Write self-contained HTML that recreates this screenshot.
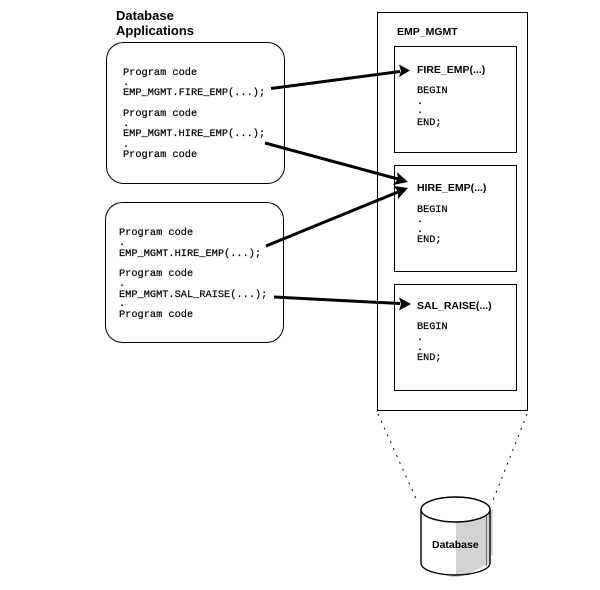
<!DOCTYPE html>
<html>
<head>
<meta charset="utf-8">
<style>
html,body{margin:0;padding:0;background:#fff;width:600px;height:590px;overflow:hidden}
svg{display:block}
.h{font-family:"Liberation Sans",sans-serif;font-weight:bold;font-size:13px;fill:#000}
.t{font-family:"Liberation Sans",sans-serif;font-size:10.5px;font-weight:bold;fill:#000}
.m{font-family:"Liberation Mono",monospace;font-size:10.3px;fill:#000;stroke:#000;stroke-width:.2}
.s{font-family:"Liberation Mono",monospace;font-size:10.2px;fill:#000;stroke:#000;stroke-width:.2}
.b{fill:none;stroke:#000;stroke-width:1}
</style>
</head>
<body>
<svg width="600" height="590" viewBox="0 0 600 590" xmlns="http://www.w3.org/2000/svg">
<rect width="600" height="590" fill="#fff"/>

<text class="h" x="116" y="20">Database</text>
<text class="h" x="116" y="35">Applications</text>

<rect class="b" x="106.5" y="42.5" width="178" height="141" rx="17" ry="17"/>
<rect class="b" x="105.5" y="202.5" width="178" height="140" rx="17" ry="17"/>

<text class="m" x="123" y="75">Program code</text>
<text class="m" x="123" y="85">.</text>
<text class="m" x="123" y="95">EMP_MGMT.FIRE_EMP(...);</text>
<text class="m" x="123" y="116">Program code</text>
<text class="m" x="123" y="126">.</text>
<text class="m" x="123" y="136">EMP_MGMT.HIRE_EMP(...);</text>
<text class="m" x="123" y="147">.</text>
<text class="m" x="123" y="157">Program code</text>

<text class="m" x="119" y="235">Program code</text>
<text class="m" x="119" y="245">.</text>
<text class="m" x="119" y="256">EMP_MGMT.HIRE_EMP(...);</text>
<text class="m" x="119" y="276">Program code</text>
<text class="m" x="119" y="286">.</text>
<text class="m" x="119" y="297">EMP_MGMT.SAL_RAISE(...);</text>
<text class="m" x="119" y="306">.</text>
<text class="m" x="119" y="317">Program code</text>

<rect class="b" x="377.5" y="12.5" width="150" height="398"/>
<text class="t" x="397" y="35">EMP_MGMT</text>

<rect class="b" x="394.5" y="46.5" width="122" height="106"/>
<text class="t" x="417" y="73">FIRE_EMP(...)</text>
<text class="s" x="417" y="93">BEGIN</text>
<text class="s" x="417" y="104">.</text>
<text class="s" x="417" y="113">.</text>
<text class="s" x="417" y="125">END;</text>

<rect class="b" x="394.5" y="165.5" width="122" height="106"/>
<text class="t" x="417" y="191">HIRE_EMP(...)</text>
<text class="s" x="417" y="212">BEGIN</text>
<text class="s" x="417" y="222">.</text>
<text class="s" x="417" y="232">.</text>
<text class="s" x="417" y="242">END;</text>

<rect class="b" x="394.5" y="284.5" width="122" height="106"/>
<text class="t" x="417" y="309">SAL_RAISE(...)</text>
<text class="s" x="417" y="329">BEGIN</text>
<text class="s" x="417" y="340">.</text>
<text class="s" x="417" y="350">.</text>
<text class="s" x="417" y="360">END;</text>

<g stroke="#000" stroke-width="3" fill="none">
<line x1="271" y1="88.5" x2="400" y2="71.5"/>
<line x1="265" y1="143" x2="398" y2="179"/>
<line x1="266" y1="246" x2="398" y2="192"/>
<line x1="274" y1="297" x2="400" y2="303.5"/>
</g>
<g fill="#000">
<polygon points="410,70.5 399,64.5 401,71 399,77"/>
<polygon points="408,182 397,172 398,179 393,185"/>
<polygon points="408,188 394,186 398,192 398,199"/>
<polygon points="411,304 399,297.5 401,304 399,310.5"/>
</g>

<g stroke="#000" stroke-width="1" stroke-dasharray="2 5.5" fill="none">
<line x1="378" y1="414" x2="418" y2="503"/>
<line x1="527" y1="414" x2="492" y2="503"/>
</g>

<path d="M456 515 L490 510 L493 510 L493 555 L490 556 L490 563 L470 573 L458 577 L448 577 L456 574 Z" fill="#d2d2d2"/>
<path d="M421 509 V563 C421 570 437 575 455 575 C473 575 490 570 490 563 V509" fill="none" stroke="#000" stroke-width="1.4"/>
<ellipse cx="455.5" cy="509.5" rx="34.5" ry="12.5" fill="#fff" stroke="#000" stroke-width="1.4"/>
<line x1="486.5" y1="516" x2="486.5" y2="566" stroke="#666" stroke-width="1"/>
<text class="t" x="432" y="548">Database</text>
</svg>
</body>
</html>
